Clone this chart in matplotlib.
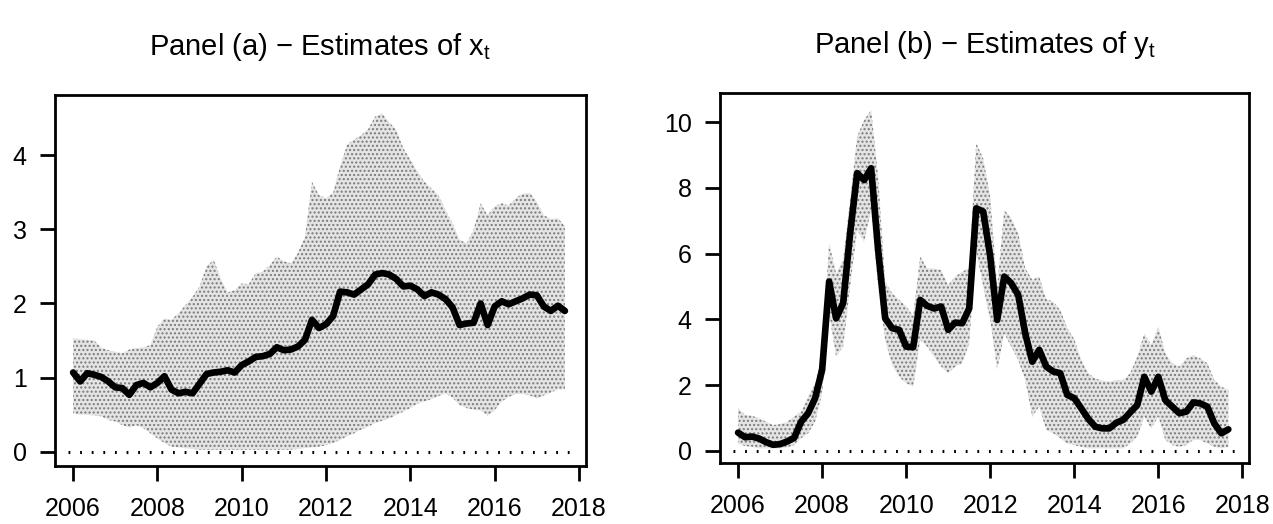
import numpy as np
import matplotlib
matplotlib.use("Agg")
import matplotlib.pyplot as plt

plt.rcParams['font.family'] = ['Liberation Sans', 'DejaVu Sans']
plt.rcParams['mathtext.fontset'] = 'custom'
plt.rcParams['mathtext.rm'] = 'Liberation Sans'
plt.rcParams['mathtext.it'] = 'Liberation Sans'
plt.rcParams['hatch.linewidth'] = 1.0
plt.rcParams['xtick.labelsize'] = 18
plt.rcParams['ytick.labelsize'] = 18
plt.rcParams['xtick.major.size'] = 10.5
plt.rcParams['ytick.major.size'] = 10.5
plt.rcParams['xtick.major.width'] = 2.0
plt.rcParams['ytick.major.width'] = 2.0
plt.rcParams['xtick.major.pad'] = 12
plt.rcParams['ytick.major.pad'] = 10
plt.rcParams['axes.linewidth'] = 2.0

# bimonthly time points, Jan 2006 .. Sep 2017
n_points = 71
dates = 2006 + np.arange(n_points) / 6.0

# Panel (a): estimates of x_t
x_est = [1.07, 0.95, 1.06, 1.04, 1.01, 0.95, 0.87, 0.86, 0.77, 0.90, 0.93, 0.87,
         0.93, 1.02, 0.84, 0.79, 0.81, 0.79, 0.92, 1.05, 1.07, 1.08, 1.10, 1.07,
         1.17, 1.22, 1.28, 1.29, 1.32, 1.41, 1.37, 1.38, 1.42, 1.51, 1.78, 1.67,
         1.72, 1.83, 2.16, 2.15, 2.12, 2.19, 2.26, 2.39, 2.41, 2.39, 2.33, 2.23,
         2.24, 2.19, 2.10, 2.15, 2.12, 2.06, 1.95, 1.71, 1.73, 1.74, 2.00, 1.71,
         1.96, 2.03, 1.99, 2.03, 2.07, 2.12, 2.11, 1.96, 1.90, 1.97, 1.90]
x_upper = [1.53, 1.52, 1.51, 1.50, 1.41, 1.37, 1.35, 1.33, 1.38, 1.40, 1.41, 1.44,
           1.69, 1.80, 1.78, 1.87, 1.98, 2.09, 2.23, 2.50, 2.59, 2.34, 2.15, 2.18,
           2.27, 2.26, 2.41, 2.43, 2.52, 2.63, 2.57, 2.54, 2.68, 2.90, 3.64, 3.46,
           3.42, 3.49, 3.85, 4.14, 4.21, 4.27, 4.35, 4.52, 4.56, 4.44, 4.34, 4.09,
           3.94, 3.78, 3.64, 3.55, 3.46, 3.26, 3.08, 2.86, 2.81, 2.99, 3.35, 3.19,
           3.31, 3.35, 3.32, 3.42, 3.48, 3.49, 3.37, 3.19, 3.14, 3.15, 3.04]
x_lower = [0.52, 0.50, 0.50, 0.49, 0.48, 0.43, 0.41, 0.36, 0.33, 0.36, 0.32, 0.25,
           0.18, 0.12, 0.07, 0.06, 0.05, 0.04, 0.03, 0.03, 0.03, 0.03, 0.03, 0.03,
           0.03, 0.03, 0.03, 0.03, 0.03, 0.03, 0.03, 0.03, 0.04, 0.05, 0.06, 0.07,
           0.09, 0.12, 0.16, 0.21, 0.25, 0.30, 0.34, 0.39, 0.42, 0.45, 0.50, 0.54,
           0.59, 0.65, 0.68, 0.71, 0.75, 0.79, 0.73, 0.63, 0.59, 0.57, 0.56, 0.49,
           0.56, 0.68, 0.74, 0.78, 0.78, 0.76, 0.72, 0.76, 0.80, 0.84, 0.84]

# Panel (b): estimates of y_t
y_est = [0.55, 0.41, 0.43, 0.37, 0.26, 0.18, 0.20, 0.28, 0.39, 0.88, 1.14, 1.60,
         2.46, 5.15, 4.03, 4.49, 6.62, 8.45, 8.24, 8.60, 6.11, 4.03, 3.73, 3.68,
         3.17, 3.15, 4.59, 4.41, 4.33, 4.39, 3.68, 3.90, 3.88, 4.33, 7.38, 7.28,
         5.92, 3.98, 5.30, 5.10, 4.74, 3.57, 2.71, 3.07, 2.56, 2.41, 2.36, 1.70,
         1.60, 1.29, 0.97, 0.73, 0.68, 0.68, 0.85, 0.94, 1.17, 1.39, 2.25, 1.80,
         2.25, 1.54, 1.34, 1.14, 1.19, 1.47, 1.44, 1.34, 0.83, 0.53, 0.65]
y_upper = [1.29, 1.09, 1.06, 0.99, 0.88, 0.78, 0.81, 0.88, 1.04, 1.19, 1.65, 2.05,
           2.97, 6.32, 5.40, 5.81, 7.63, 9.56, 10.07, 10.37, 8.34, 5.15, 4.79, 4.59,
           4.40, 4.10, 5.91, 5.55, 5.55, 5.50, 5.04, 5.30, 5.45, 5.55, 9.36, 8.90,
           7.73, 4.99, 7.33, 7.08, 6.62, 5.55, 5.20, 5.30, 4.61, 4.54, 4.28, 3.73,
           3.39, 2.76, 2.36, 2.20, 2.13, 2.10, 2.15, 2.15, 2.36, 2.86, 3.57, 3.22,
           3.78, 2.97, 2.66, 2.56, 2.81, 2.91, 2.81, 2.66, 2.15, 1.95, 1.85]
y_lower = [0.22, 0.14, 0.12, 0.07, 0.07, 0.07, 0.07, 0.10, 0.17, 0.38, 0.53, 0.88,
           1.75, 4.18, 2.86, 3.17, 5.00, 6.72, 6.36, 7.33, 5.00, 3.37, 2.61, 2.25,
           2.05, 1.95, 3.37, 3.17, 2.86, 2.56, 2.36, 2.56, 2.66, 3.27, 6.11, 5.00,
           3.98, 2.46, 3.57, 3.17, 2.76, 2.15, 1.04, 1.34, 0.63, 0.53, 0.38, 0.22,
           0.17, 0.12, 0.07, 0.07, 0.07, 0.07, 0.07, 0.07, 0.22, 0.43, 1.04, 0.68,
           1.04, 0.33, 0.17, 0.12, 0.17, 0.33, 0.33, 0.22, 0.12, 0.07, 0.12]

x_ticks = [2006, 2008, 2010, 2012, 2014, 2016, 2018]
ya_ticks = [0, 1, 2, 3, 4]
yb_ticks = [0, 2, 4, 6, 8, 10]

titles = ["Panel (a) \u2212 Estimates of $\\mathregular{x_t}$",
          "Panel (b) \u2212 Estimates of $\\mathregular{y_t}$"]

fig = plt.figure(figsize=(12.73, 5.24), dpi=100)
ax1 = fig.add_axes([0.0432, 0.1107, 0.4169, 0.7080])
ax2 = fig.add_axes([0.5656, 0.1170, 0.4156, 0.7055])

panels = [
    (ax1, x_est, x_lower, x_upper, ya_ticks, (-0.19, 4.81), titles[0]),
    (ax2, y_est, y_lower, y_upper, yb_ticks, (-0.365, 10.89), titles[1]),
]

for ax, est, lo, hi, yt, ylim, title in panels:
    ax.fill_between(dates, lo, hi, facecolor='#e4e4e4', edgecolor='#7a7a7a',
                    hatch='....', linewidth=0, zorder=1)
    ax.axhline(0, xmin=0.025, xmax=0.975, color='black', lw=2.2,
               ls=(0, (0.6, 3.2)), zorder=2)
    ax.plot(dates, est, color='black', lw=4.8, solid_joinstyle='round',
            solid_capstyle='round', zorder=3)
    ax.set_xlim(2005.57, 2018.16)
    ax.set_ylim(*ylim)
    ax.set_xticks(x_ticks)
    ax.set_xticklabels([str(v) for v in x_ticks], fontsize=18)
    ax.set_yticks(yt)
    ax.set_yticklabels([str(v) for v in yt], fontsize=18)
    ax.text(0.5, 1.13, title, transform=ax.transAxes, ha='center', va='center',
            fontsize=21)

fig.savefig("out.png", dpi=100)
